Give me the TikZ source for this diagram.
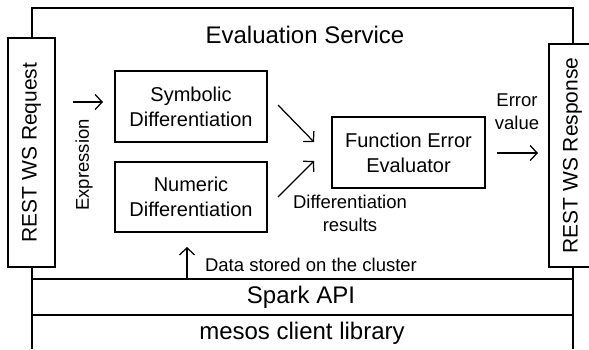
\documentclass[tikz,border=0pt]{standalone}
\usepackage{fontspec}
\setmainfont{Liberation Sans}
\usetikzlibrary{positioning,arrows.meta}

\begin{document}
\begin{tikzpicture}[x=1pt,y=-1pt,line width=1.25pt,>={Straight Barb[length=7pt,width=15pt]},
  blk/.style={draw,fill=white,align=center,inner sep=0pt,font=\fontsize{20}{25}\selectfont},
  lbl/.style={align=center,inner sep=0pt,font=\fontsize{18.5}{23}\selectfont},
  big/.style={inner sep=0pt,font=\fontsize{24}{29}\selectfont}]
\clip (0,0) rectangle (589,349);
\fill[white] (0,0) rectangle (589,349);
% service frame and layers
\draw (32,349) -- (32,8) -- (573,8) -- (573,349);
\draw (32,279) -- (573,279);
\draw (32,315) -- (573,315);
\node[big] (title) at (305,35) {Evaluation Service};
\node[big] (spark) at (301,297) {Spark API};
\node[big] (mesos) at (302,333) {mesos client library};
% endpoints
\node[blk,minimum width=47pt,minimum height=229pt,font=\fontsize{21}{25}\selectfont] (req) at (31.5,152.5) {};
\node[rotate=90,inner sep=0pt,font=\fontsize{21}{25}\selectfont] (reqtxt) at (req.center) {REST WS Request};
\node[blk,minimum width=47pt,minimum height=223pt] (resp) at (572.5,155.5) {};
\node[rotate=90,inner sep=0pt,font=\fontsize{21}{25}\selectfont] (resptxt) at (resp.center) {REST WS Response};
% processing blocks
\node[blk,minimum width=152pt,minimum height=71pt] (sym) at (191,106.5) {Symbolic\\Differentiation};
\node[blk,minimum width=152pt,minimum height=70pt] (num) at (191,197) {Numeric\\Differentiation};
\node[blk,minimum width=153pt,minimum height=71pt] (fee) at (408.5,152.5) {Function Error\\Evaluator};
% labels
\node[lbl,rotate=90] (expr) at (84,165) {Expression};
\node[lbl] (errval) at (517,112) {Error\\value};
\node[lbl] (diffres) at (350,213) {Differentiation\\results};
\node[lbl] (data) at (311,265) {Data stored on the cluster};
% connectors
\coordinate (e1) at (73,102);   \coordinate (e2) at (103,102);
\coordinate (s1) at (278,105);  \coordinate (s2) at (314,142);
\coordinate (n1) at (278,197);  \coordinate (n2) at (314,161);
\coordinate (v1) at (497,153);  \coordinate (v2) at (538,153);
\coordinate (d1) at (187,279);  \coordinate (d2) at (187,247);
\foreach \a/\b in {e1/e2,s1/s2,n1/n2,v1/v2,d1/d2} \draw[->] (\a) -- (\b);
\end{tikzpicture}
\end{document}
